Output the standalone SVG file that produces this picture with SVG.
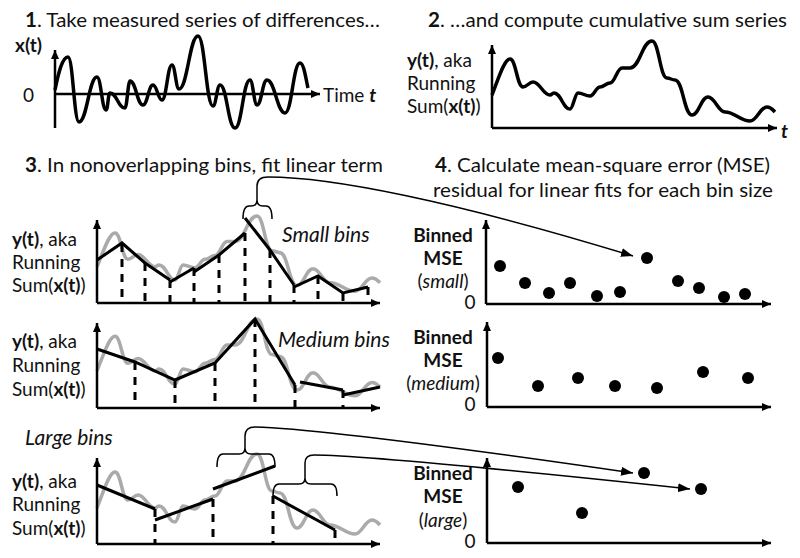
<svg xmlns="http://www.w3.org/2000/svg" xmlns:xlink="http://www.w3.org/1999/xlink" width="800" height="558" viewBox="0 0 800 558">
<style>
.t{font-family:Lato,"Open Sans","Liberation Sans",sans-serif;font-size:19px;fill:#111}
.h{font-size:20px}
.b{font-weight:bold}
.i{font-style:italic}
.bl{font-size:21px}
.m{text-anchor:middle}
.ax{stroke:#000;stroke-width:2.5;fill:none;marker-end:url(#ah)}
.curve{fill:none;stroke:#000;stroke-width:3.5;stroke-linejoin:round}
.gray{fill:none;stroke:#aaa;stroke-width:3.5;stroke-linejoin:round}
.fit{fill:none;stroke:#000;stroke-width:3}
.dash{stroke:#000;stroke-width:3;stroke-dasharray:8 7}
.conn{fill:none;stroke:#000;stroke-width:1.5}
.arr{marker-end:url(#ch)}
.dot{fill:#000}
</style>
<defs>
<marker id="ah" markerUnits="userSpaceOnUse" markerWidth="10" markerHeight="10" viewBox="0 0 10 10" refX="9" refY="5" orient="auto"><path d="M0,1 L9,5 L0,9 Z" fill="#000"/></marker>
<marker id="ch" markerUnits="userSpaceOnUse" markerWidth="13" markerHeight="10" viewBox="0 0 13 10" refX="12" refY="5" orient="auto"><path d="M0,0.5 L12,5 L0,9.5 Z" fill="#000"/></marker>
<path id="sum" vector-effect="non-scaling-stroke" d="M492,95 C498,80 504,59 510,59 C516,59 517,87 523,87 C527,87 529,82 533,82 C540,82 543,95 550,95 C552,95 552,93 554,93 C561,93 563,109 570,109 C573,109 575,93 578,93 C583,93 585,96 590,96 C594,96 596,87 600,87 C604,87 606,83 610,83 C615,83 617,68 622,68 C625,68 627,68 630,68 C640,68 642,41 652,41 C659,41 660,78 667,78 C670,78 672,80 675,80 C683,80 684,115 692,115 C699,115 701,97 708,97 C715,97 718,112 725,112 C735,112 740,121 750,121 C757,121 760,107 767,107 C771,107 773,110 775,112"/>
</defs>

<g id="panel1">
<text class="t h" x="25" y="27" textLength="355" lengthAdjust="spacingAndGlyphs"><tspan class="b">1</tspan>. Take measured series of differences…</text>
<text class="t b" x="15" y="52">x(t)</text>
<text class="t" x="23" y="102">0</text>
<text class="t" x="323" y="102">Time <tspan class="b i">t</tspan></text>
<line class="ax" x1="55" y1="128" x2="55" y2="50"/>
<line class="ax" x1="55" y1="94" x2="320" y2="94"/>
<path class="curve" d="M55,90 C58,75 62,57 68,57 C73,57 74,122 79,122 C87,122 89,77 97,77 C101,77 102,110 106,110 C108,110 108,93 110,93 C117,93 118,108 125,108 C127,108 128,81 130,81 C136,81 137,105 143,105 C147.5,105 148.5,85 153,85 C157,85 158,100 162,100 C166.5,100 167.5,65 172,65 C175,65 176,89 179,89 C187.5,89 189.5,36 198,36 C205,36 206,106 213,106 C216,106 217,85 220,85 C227,85 228,128 235,128 C242,128 243,80 250,80 C253,80 254,105 257,105 C261.5,105 262.5,80 267,80 C275,80 277,113 285,113 C292,113 293,63 300,63 C304,63 306,80 308,88"/>
</g>

<g id="panel2">
<text class="t h" x="428" y="27" textLength="359" lengthAdjust="spacingAndGlyphs"><tspan class="b">2</tspan>. …and compute cumulative sum series</text>
<text class="t" x="407" y="67"><tspan class="b">y(t)</tspan>, aka</text>
<text class="t" x="407" y="90">Running</text>
<text class="t" x="407" y="113">Sum(<tspan class="b">x(t)</tspan>)</text>
<line class="ax" x1="492" y1="128" x2="492" y2="45"/>
<line class="ax" x1="492" y1="128" x2="777" y2="128"/>
<text class="t b i" x="781" y="138">t</text>
<use href="#sum" xlink:href="#sum" class="curve"/>
</g>

<g id="title3">
<text class="t h" x="25" y="172" textLength="358" lengthAdjust="spacingAndGlyphs"><tspan class="b">3</tspan>. In nonoverlapping bins, fit linear term</text>
</g>
<g id="title4">
<text class="t h" x="435" y="172" textLength="335" lengthAdjust="spacingAndGlyphs"><tspan class="b">4</tspan>. Calculate mean-square error (MSE)</text>
<text class="t h" x="433" y="197" textLength="340" lengthAdjust="spacingAndGlyphs">residual for linear fits for each bin size</text>
</g>

<g id="small-bins">
<text class="t" x="12" y="246"><tspan class="b">y(t)</tspan>, aka</text>
<text class="t" x="12" y="269">Running</text>
<text class="t" x="12" y="292">Sum(<tspan class="b">x(t)</tspan>)</text>
<text class="t i bl" x="282" y="242">Small bins</text>
<use href="#sum" xlink:href="#sum" class="gray" transform="translate(-395 177.5) scale(1 0.94)"/>
<g class="dash">
<line x1="122" y1="244" x2="122" y2="303"/><line x1="145" y1="263" x2="145" y2="303"/><line x1="170" y1="280" x2="170" y2="303"/><line x1="194" y1="268" x2="194" y2="303"/><line x1="219" y1="255" x2="219" y2="303"/><line x1="245" y1="233" x2="245" y2="303"/><line x1="270" y1="250" x2="270" y2="303"/><line x1="294" y1="285" x2="294" y2="303"/><line x1="318" y1="276" x2="318" y2="303"/><line x1="343" y1="293" x2="343" y2="303"/><line x1="368" y1="287" x2="368" y2="303"/>
</g>
<g class="fit">
<polyline points="97,260 122,243 145,263 170,280"/>
<polyline points="170,282 194,268"/>
<polyline points="194,272 219,255 245,233"/>
<polyline points="245,218 270,250 294,285"/>
<polyline points="294,287 318,276 343,293 368,287"/>
</g>
<line class="ax" x1="97" y1="303" x2="97" y2="220"/>
<line class="ax" x1="97" y1="303" x2="380" y2="303"/>
</g>

<g id="medium-bins">
<text class="t" x="12" y="348"><tspan class="b">y(t)</tspan>, aka</text>
<text class="t" x="12" y="372">Running</text>
<text class="t" x="12" y="396">Sum(<tspan class="b">x(t)</tspan>)</text>
<text class="t i bl" x="278" y="347">Medium bins</text>
<use href="#sum" xlink:href="#sum" class="gray" transform="translate(-395 279.7) scale(1 0.96)"/>
<g class="dash">
<line x1="135" y1="362" x2="135" y2="408"/><line x1="175" y1="380" x2="175" y2="408"/><line x1="215" y1="363" x2="215" y2="408"/><line x1="255" y1="319" x2="255" y2="408"/><line x1="295" y1="385" x2="295" y2="408"/><line x1="343" y1="390" x2="343" y2="408"/>
</g>
<g class="fit">
<polyline points="97,349 135,362 175,380 215,363 255,319 295,385"/>
<polyline points="300,382 343,390"/>
<polyline points="343,395 380,387"/>
</g>
<line class="ax" x1="97" y1="408" x2="97" y2="323"/>
<line class="ax" x1="97" y1="408" x2="380" y2="408"/>
</g>

<g id="large-bins">
<text class="t i bl" x="25" y="445">Large bins</text>
<text class="t" x="12" y="488"><tspan class="b">y(t)</tspan>, aka</text>
<text class="t" x="12" y="511">Running</text>
<text class="t" x="12" y="535">Sum(<tspan class="b">x(t)</tspan>)</text>
<use href="#sum" xlink:href="#sum" class="gray" transform="translate(-395 413)"/>
<g class="dash">
<line x1="155" y1="509" x2="155" y2="544"/><line x1="213" y1="499" x2="213" y2="544"/><line x1="273" y1="496" x2="273" y2="544"/><line x1="335" y1="530" x2="335" y2="544"/>
</g>
<g class="fit">
<polyline points="97,485 155,509"/>
<polyline points="155,520 213,499"/>
<polyline points="213,489 275,466"/>
<polyline points="273,496 335,530"/>
</g>
<line class="ax" x1="97" y1="544" x2="97" y2="458"/>
<line class="ax" x1="97" y1="544" x2="380" y2="544"/>
</g>

<g id="mse-small">
<text class="t b m" x="443" y="242">Binned</text>
<text class="t b m" x="443" y="265">MSE</text>
<text class="t m" x="443" y="288">(<tspan class="i">small</tspan>)</text>
<text class="t m" x="470" y="309">0</text>
<line class="ax" x1="486" y1="304" x2="486" y2="220"/>
<line class="ax" x1="486" y1="304" x2="771" y2="304"/>
<g class="dot">
<circle cx="500" cy="266" r="6"/><circle cx="525" cy="283" r="6"/><circle cx="549" cy="293" r="6"/><circle cx="570" cy="283" r="6"/><circle cx="597" cy="296" r="6"/><circle cx="620" cy="292" r="6"/><circle cx="647" cy="258" r="6"/><circle cx="678" cy="281" r="6"/><circle cx="699" cy="288" r="6"/><circle cx="724" cy="297" r="6"/><circle cx="745" cy="294" r="6"/>
</g>
</g>

<g id="mse-medium">
<text class="t b m" x="443" y="344">Binned</text>
<text class="t b m" x="443" y="367">MSE</text>
<text class="t m" x="443" y="390">(<tspan class="i">medium</tspan>)</text>
<text class="t m" x="470" y="411">0</text>
<line class="ax" x1="487" y1="407" x2="487" y2="322"/>
<line class="ax" x1="487" y1="407" x2="771" y2="407"/>
<g class="dot">
<circle cx="498" cy="358" r="6"/><circle cx="538" cy="386" r="6"/><circle cx="578" cy="378" r="6"/><circle cx="615" cy="386" r="6"/><circle cx="657" cy="388" r="6"/><circle cx="703" cy="372" r="6"/><circle cx="748" cy="378" r="6"/>
</g>
</g>

<g id="mse-large">
<text class="t b m" x="443" y="480">Binned</text>
<text class="t b m" x="443" y="503">MSE</text>
<text class="t m" x="443" y="527">(<tspan class="i">large</tspan>)</text>
<text class="t m" x="470" y="548">0</text>
<line class="ax" x1="487" y1="543" x2="487" y2="458"/>
<line class="ax" x1="487" y1="543" x2="771" y2="543"/>
<g class="dot">
<circle cx="518" cy="487" r="6"/><circle cx="582" cy="513" r="6"/><circle cx="644" cy="473" r="6"/><circle cx="701" cy="489" r="6"/>
</g>
</g>

<g id="connectors">
<path class="conn" d="M243,219 Q243,206 249,206 L251,206 Q257,206 257,200 Q257,206 263,206 L266,206 Q272,206 272,219"/>
<path class="conn arr" d="M257,200 L257,186 Q257,177 268,177 C330,177 450,200 633,256"/>
<path class="conn" d="M217,467 Q217,454 223,454 L239,454 Q245,454 245,448 Q245,454 251,454 L269,454 Q275,454 275,467"/>
<path class="conn arr" d="M245,448 L245,436 Q245,427 255,427 Q330,429 633,473"/>
<path class="conn" d="M273,496 Q273,484 279,484 L299,484 Q305,484 305,478 Q305,484 311,484 L331,484 Q337,484 337,496"/>
<path class="conn arr" d="M305,478 L305,463 Q305,455 314,455 Q370,455 690,489"/>
</g>
</svg>
